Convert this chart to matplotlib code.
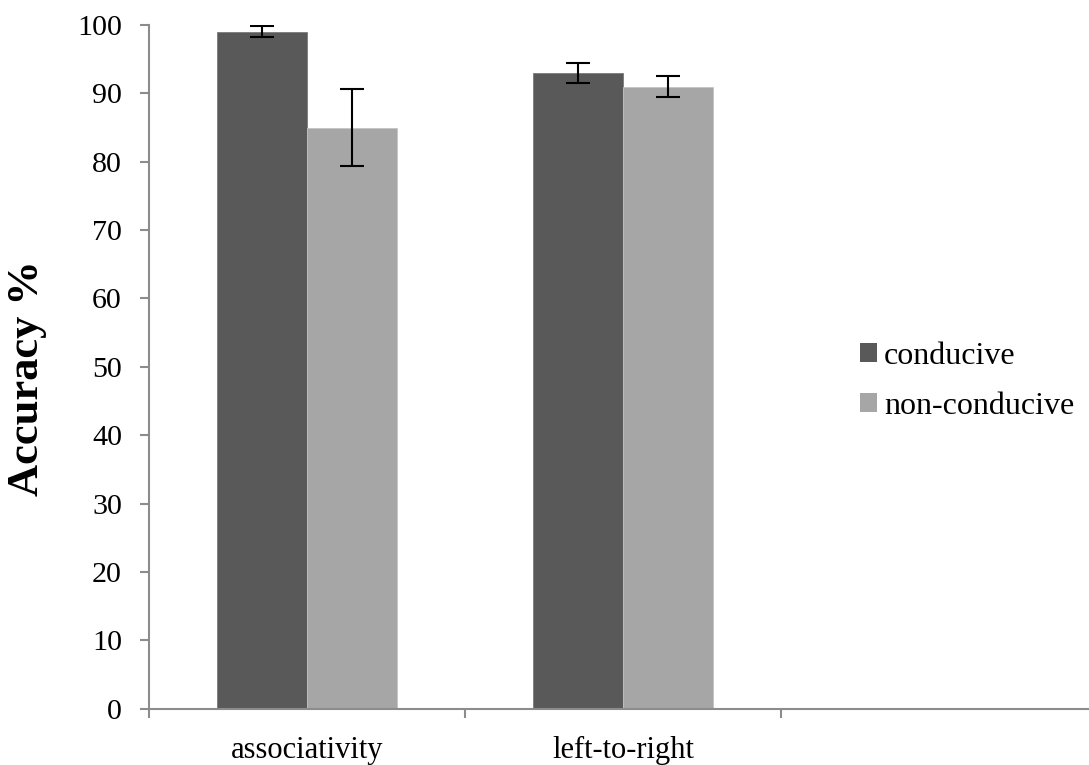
import numpy as np
import matplotlib.pyplot as plt
from matplotlib.patches import Patch

plt.rcParams['font.family'] = ['Liberation Serif', 'DejaVu Serif']

categories = ['associativity', 'left-to-right']
series = ['conducive', 'non-conducive']
conducive = [99, 93]
non_conducive = [85, 91]
conducive_err = [0.8, 1.5]
non_conducive_err = [5.6, 1.5]

dark = '#595959'
light = '#a6a6a6'
axis_grey = '#8c8c8c'

fig = plt.figure(figsize=(10.89, 7.65), dpi=100)
ax = fig.add_axes([0.1371, 0.0736, 0.8702, 0.8937])

x = np.arange(len(categories)) + 0.5
w = 0.285
err_kw = dict(ecolor='black', elinewidth=1.5, capsize=8.6, capthick=1.5)
ax.bar(x - w / 2, conducive, w, yerr=conducive_err, color=dark,
       edgecolor='#7a7a7a', linewidth=0.6, error_kw=err_kw, zorder=2)
ax.bar(x + w / 2, non_conducive, w, yerr=non_conducive_err, color=light,
       edgecolor='#c4c4c4', linewidth=0.6, error_kw=err_kw, zorder=2)

ax.set_xlim(0, 3)
ax.set_ylim(0, 100)
ax.set_yticks(range(0, 101, 10))
ax.set_xticks([0, 1, 2, 3])
ax.set_xticklabels([])
ax.set_xticks(x, minor=True)
ax.set_xticklabels(categories, minor=True)
ax.tick_params(axis='x', which='minor', length=0, pad=20, labelsize=22)
ax.tick_params(axis='x', which='major', length=6.5, width=1.5, color=axis_grey, direction='out')
ax.tick_params(axis='y', length=6.2, width=1.5, color=axis_grey, labelsize=21.6, pad=13.5)

for s in ['top', 'right']:
    ax.spines[s].set_visible(False)
for s in ['left', 'bottom']:
    ax.spines[s].set_color(axis_grey)
    ax.spines[s].set_linewidth(1.5)

fig.text(27 / 1089, 1 - 378 / 765, 'Accuracy %', rotation=90, fontsize=32,
         fontweight='bold', ha='center', va='center')

handles = [Patch(facecolor=dark, label=series[0]),
           Patch(facecolor=light, label=series[1])]
fig.legend(handles=handles, loc='center left', bbox_to_anchor=(860 / 1089, 1 - 381.5 / 765),
           frameon=False, fontsize=23, handlelength=0.53, handleheight=0.53,
           handletextpad=0.22, labelspacing=0.65, borderpad=0, borderaxespad=0)

fig.savefig('out.png', dpi=100)
